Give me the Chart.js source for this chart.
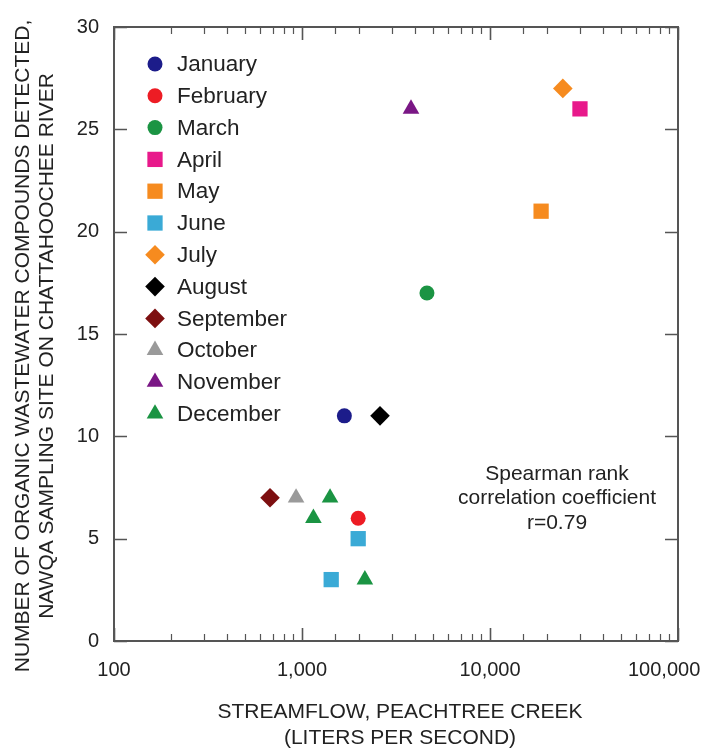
<!DOCTYPE html>
<html>
<head>
<meta charset="utf-8">
<script src="https://cdn.jsdelivr.net/npm/chart.js@4/dist/chart.umd.min.js"></script>
<style>
	html, body { margin: 0; padding: 0; background: #fff; }
	#wrap { width: 704px; height: 750px; }
</style>
</head>
<body>
<div id="wrap"><canvas id="chart" width="704" height="750"></canvas></div>
<script>
/*------------데이터-------------------------------------------------------------------*/
const monthNames = ['January', 'February', 'March', 'April', 'May', 'June',
	'July', 'August', 'September', 'October', 'November', 'December'];

// streamflow, Peachtree Creek (liters per second), one list per month
const streamflow = [
	[1680],
	[1990],
	[4620],
	[30100],
	[18700],
	[1990, 1430],
	[24400],
	[2600],
	[676],
	[930],
	[3800],
	[1410, 1150, 2160]
];

// number of organic wastewater compounds detected
const compounds = [
	[11],
	[6],
	[17],
	[26],
	[21],
	[5, 3],
	[27],
	[11],
	[7],
	[7],
	[26],
	[7, 6, 3]
];

// last label is padded so it stays inside the page like the original
const xTickLabels = ['100', '1,000', '10,000', '100,000     '];
const yTicks = [0, 5, 10, 15, 20, 25, 30];
const noteLines = ['Spearman rank', 'correlation coefficient', 'r=0.79'];

/*------------스타일-------------------------------------------------------------------*/
const colors = ['#1c1c8a', '#ed1c24', '#1b9443', '#e8198b', '#f68b1f', '#3aaad6',
	'#f68b1f', '#000000', '#7d0f10', '#9a9a9a', '#7a1785', '#1b9443'];
const shapes = ['circle', 'circle', 'circle', 'rect', 'rect', 'rect',
	'rectRot', 'rectRot', 'rectRot', 'triangle', 'triangle', 'triangle'];
const shapeSize = { circle: 7.5, rect: 10.8, rectRot: 9.8, triangle: 9.6 };

const FONT = "'Liberation Sans', Arial, Helvetica, sans-serif";
const TEXT = '#222';
const AXIS = '#555';

const datasets = monthNames.map(function(name, i) {
	return {
		label: name,
		data: streamflow[i].map(function(v, j) { return { x: v, y: compounds[i][j] }; }),
		pointStyle: shapes[i],
		pointRadius: shapeSize[shapes[i]],
		pointHoverRadius: shapeSize[shapes[i]],
		backgroundColor: colors[i],
		borderColor: colors[i],
		borderWidth: 0,
		showLine: false
	};
});

/*------------플러그인 (테두리, 눈금, 범례, 제목)-----------------------------------------*/
function drawMarker(ctx, style, r, x, y) {
	if (Chart.helpers && Chart.helpers.drawPoint) {
		Chart.helpers.drawPoint(ctx, { pointStyle: style, radius: r, borderWidth: 0, rotation: 0 }, x, y);
		return;
	}
	ctx.beginPath();
	ctx.arc(x, y, r, 0, Math.PI * 2);
	ctx.fill();
}

const framePlugin = {
	id: 'frame',
	afterDatasetsDraw: function(chart) {
		const ctx = chart.ctx;
		const a = chart.chartArea;
		const xs = chart.scales.x;
		const ys = chart.scales.y;
		ctx.save();

		// inward ticks, top and bottom
		ctx.strokeStyle = AXIS;
		xs.ticks.forEach(function(t) {
			const exp = Math.log10(t.value);
			const major = Math.abs(exp - Math.round(exp)) < 1e-9;
			const px = Math.round(xs.getPixelForValue(t.value)) + 0.5;
			const len = major ? 13 : 7;
			ctx.lineWidth = major ? 1.6 : 1.2;
			ctx.beginPath();
			ctx.moveTo(px, a.bottom); ctx.lineTo(px, a.bottom - len);
			ctx.moveTo(px, a.top); ctx.lineTo(px, a.top + len);
			ctx.stroke();
		});
		// inward ticks, left and right
		ctx.lineWidth = 1.6;
		yTicks.forEach(function(v) {
			const py = Math.round(ys.getPixelForValue(v)) + 0.5;
			ctx.beginPath();
			ctx.moveTo(a.left, py); ctx.lineTo(a.left + 13, py);
			ctx.moveTo(a.right, py); ctx.lineTo(a.right - 13, py);
			ctx.stroke();
		});
		// frame
		ctx.lineWidth = 2;
		ctx.strokeRect(a.left, a.top, a.right - a.left, a.bottom - a.top);

		// legend
		ctx.font = '22.5px ' + FONT;
		ctx.textBaseline = 'middle';
		ctx.textAlign = 'left';
		chart.data.datasets.forEach(function(ds, i) {
			const ly = a.top + 37 + i * 31.8;
			ctx.fillStyle = ds.backgroundColor;
			drawMarker(ctx, ds.pointStyle, ds.pointRadius, a.left + 41, ly);
			ctx.fillStyle = TEXT;
			ctx.fillText(ds.label, a.left + 63, ly + 1);
		});

		// note
		ctx.font = '21px ' + FONT;
		ctx.textAlign = 'center';
		ctx.fillStyle = TEXT;
		noteLines.forEach(function(s, i) {
			ctx.fillText(s, a.left + 443, a.top + 447 + i * 24.5);
		});

		// axis titles
		ctx.font = '21px ' + FONT;
		ctx.fillText('STREAMFLOW, PEACHTREE CREEK', (a.left + a.right) / 2 + 4, 712);
		ctx.fillText('(LITERS PER SECOND)', (a.left + a.right) / 2 + 4, 738);
		ctx.translate(35, 346);
		ctx.rotate(-Math.PI / 2);
		ctx.fillText('NUMBER OF ORGANIC WASTEWATER COMPOUNDS DETECTED,', 0, -12);
		ctx.fillText('NAWQA SAMPLING SITE ON CHATTAHOOCHEE RIVER', 0, 12);
		ctx.restore();
	}
};

/*------------차트-------------------------------------------------------------------*/
const config = {
	type: 'scatter',
	data: { datasets: datasets },
	options: {
		responsive: false,
		animation: false,
		layout: { padding: { top: 25, right: 26, bottom: 0, left: 0 } },
		plugins: {
			legend: { display: false },
			tooltip: { enabled: false }
		},
		scales: {
			x: {
				type: 'logarithmic',
				min: 100,
				max: 100000,
				grid: { display: false, drawTicks: false },
				border: { display: false },
				ticks: {
					autoSkip: false,
					maxRotation: 0,
					padding: 17,
					color: TEXT,
					font: { family: FONT, size: 20 },
					callback: function(value) {
						const exp = Math.log10(value);
						if (Math.abs(exp - Math.round(exp)) > 1e-9) return '';
						return xTickLabels[Math.round(exp) - 2];
					}
				},
				afterFit: function(scale) {
					scale.height = 109;
					scale.paddingLeft = 0;
					scale.paddingRight = 0;
				}
			},
			y: {
				min: 0,
				max: 30,
				grid: { display: false, drawTicks: false },
				border: { display: false },
				afterBuildTicks: function(scale) {
					scale.ticks = yTicks.map(function(v) { return { value: v }; });
				},
				ticks: {
					padding: 15,
					color: TEXT,
					font: { family: FONT, size: 20 }
				},
				afterFit: function(scale) {
					scale.width = 114;
				}
			}
		}
	},
	plugins: [framePlugin]
};

const chart = new Chart(document.getElementById('chart'), config);
</script>
</body>
</html>
